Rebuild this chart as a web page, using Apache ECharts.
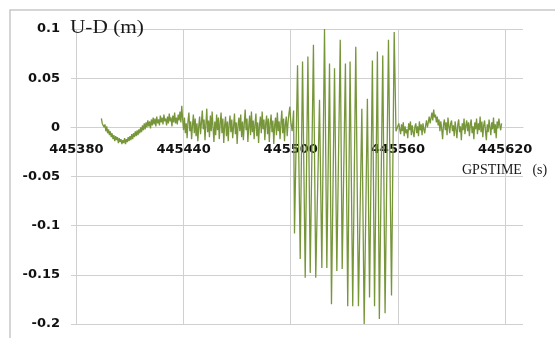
<!DOCTYPE html>
<html>
<head>
<meta charset="utf-8">
<script src="https://cdn.jsdelivr.net/npm/echarts@6/dist/echarts.min.js"></script>
<style>
  html, body { margin: 0; padding: 0; background: #ffffff; }
  #chart { width: 555px; height: 338px; }
</style>
</head>
<body>
<div id="chart"></div>
<script>
// GPS time of the first gridline; all sample times below are seconds after it
const GPS_BASE = 445380;

// X tick labels (GPS seconds)
const xTicks = [445380, 445440, 445500, 445560, 445620];

// Quiet interval before the disturbance (0.5 s samples)
const secBefore = [
  14, 14.5, 15, 15.5, 16, 16.5, 17, 17.5, 18, 18.5,
  19, 19.5, 20, 20.5, 21, 21.5, 22, 22.5, 23, 23.5,
  24, 24.5, 25, 25.5, 26, 26.5, 27, 27.5, 28, 28.5,
  29, 29.5, 30, 30.5, 31, 31.5, 32, 32.5, 33, 33.5,
  34, 34.5, 35, 35.5, 36, 36.5, 37, 37.5, 38, 38.5,
  39, 39.5, 40, 40.5, 41, 41.5, 42, 42.5, 43, 43.5,
  44, 44.5, 45, 45.5, 46, 46.5, 47, 47.5, 48, 48.5,
  49, 49.5, 50, 50.5, 51, 51.5, 52, 52.5, 53, 53.5,
  54, 54.5, 55, 55.5, 56, 56.5, 57, 57.5, 58, 58.5,
  59, 59.5, 60, 60.5, 61, 61.5, 62, 62.5, 63, 63.5,
  64, 64.5, 65, 65.5, 66, 66.5, 67, 67.5, 68, 68.5,
  69, 69.5, 70, 70.5, 71, 71.5, 72, 72.5, 73, 73.5,
  74, 74.5, 75, 75.5, 76, 76.5, 77, 77.5, 78, 78.5,
  79, 79.5, 80, 80.5, 81, 81.5, 82, 82.5, 83, 83.5,
  84, 84.5, 85, 85.5, 86, 86.5, 87, 87.5, 88, 88.5,
  89, 89.5, 90, 90.5, 91, 91.5, 92, 92.5, 93, 93.5,
  94, 94.5, 95, 95.5, 96, 96.5, 97, 97.5, 98, 98.5,
  99, 99.5, 100, 100.5, 101, 101.5, 102, 102.5, 103, 103.5,
  104, 104.5, 105, 105.5, 106, 106.5, 107, 107.5, 108, 108.5,
  109, 109.5, 110, 110.5, 111, 111.5, 112, 112.5, 113, 113.5,
  114, 114.5, 115, 115.5, 116, 116.5, 117, 117.5, 118, 118.5,
  119, 119.5, 120];
const udBefore = [
  0.009, 0.004, 0.006, 0.000, 0.003, -0.004, 0.001, -0.006, -0.002, -0.008,
  -0.004, -0.010, -0.006, -0.012, -0.008, -0.014, -0.009, -0.013, -0.010, -0.016,
  -0.011, -0.015, -0.012, -0.017, -0.013, -0.016, -0.011, -0.017, -0.012, -0.015,
  -0.010, -0.014, -0.009, -0.013, -0.007, -0.012, -0.006, -0.010, -0.004, -0.009,
  -0.003, -0.008, -0.002, -0.006, 0.000, -0.005, 0.002, -0.003, 0.004, -0.002,
  0.005, 0.000, 0.007, 0.001, 0.006, -0.001, 0.008, 0.002, 0.010, 0.003,
  0.009, 0.001, 0.011, 0.004, 0.008, 0.002, 0.012, 0.005, 0.010, 0.003,
  0.013, 0.006, 0.009, 0.002, 0.011, 0.004, 0.014, 0.006, 0.010, 0.001,
  0.012, 0.005, 0.015, 0.004, 0.010, 0.003, 0.013, 0.007, 0.016, 0.005,
  0.022, 0.008, -0.003, 0.010, -0.006, 0.004, -0.011, 0.007, 0.015, -0.004,
  0.006, -0.012, 0.002, 0.013, -0.006, 0.009, -0.009, 0.004, -0.014, 0.001,
  0.011, -0.007, 0.005, 0.017, -0.002, 0.008, -0.013, 0.003, 0.019, -0.005,
  0.007, -0.010, 0.012, -0.004, 0.016, 0.000, -0.015, 0.006, -0.008, 0.013,
  -0.003, 0.010, -0.012, 0.004, 0.015, -0.006, 0.009, -0.016, 0.002, 0.011,
  -0.009, 0.006, -0.014, 0.003, 0.012, -0.005, 0.008, -0.011, 0.001, 0.014,
  -0.007, 0.005, -0.017, 0.002, 0.010, -0.004, 0.013, -0.010, 0.006, -0.013,
  0.004, 0.018, -0.003, 0.009, -0.015, 0.001, 0.012, -0.008, 0.016, -0.005,
  0.007, -0.012, 0.003, 0.014, -0.009, 0.005, -0.016, 0.002, 0.011, -0.006,
  0.016, -0.002, 0.008, -0.013, 0.004, 0.012, -0.007, 0.009, -0.015, 0.003,
  0.013, -0.005, 0.007, -0.017, 0.002, 0.010, -0.008, 0.015, -0.004, 0.006,
  -0.012, 0.004, 0.017, -0.006, 0.009, -0.014, 0.003, 0.011, -0.009, 0.005,
  0.014, 0.021, 0.006];

// Oscillation burst: alternating crests and troughs
const secBurst = [120.8, 121.6, 122.1, 123.8, 125.3, 126.6, 128.1, 129.6, 130.9, 132.7, 134.0,
  136.1, 137.4, 138.9, 140.2, 141.7, 142.8, 144.5, 145.8, 147.7, 148.8, 150.6, 151.9,
  153.2, 154.7, 156.4, 157.9, 159.8, 161.1, 162.9, 164.1, 165.7, 166.9, 168.5, 169.6,
  171.5, 172.8, 174.7, 176.4, 177.9, 178.9];
const udBurst = [-0.004, 0.017, -0.108, 0.063, -0.134, 0.067, -0.153, 0.072, -0.148, 0.084, -0.153,
  0.028, -0.143, 0.100, -0.143, 0.065, -0.180, 0.060, -0.146, 0.089, -0.144, 0.065, -0.182,
  0.067, -0.182, 0.082, -0.182, 0.019, -0.200, 0.029, -0.173, 0.068, -0.182, 0.077, -0.195,
  0.073, -0.189, 0.089, -0.171, 0.097, -0.004];

// Quiet interval after the disturbance (0.5 s samples)
const secAfter = [
  180, 180.5, 181, 181.5, 182, 182.5, 183, 183.5, 184, 184.5,
  185, 185.5, 186, 186.5, 187, 187.5, 188, 188.5, 189, 189.5,
  190, 190.5, 191, 191.5, 192, 192.5, 193, 193.5, 194, 194.5,
  195, 195.5, 196, 196.5, 197, 197.5, 198, 198.5, 199, 199.5,
  200, 200.5, 201, 201.5, 202, 202.5, 203, 203.5, 204, 204.5,
  205, 205.5, 206, 206.5, 207, 207.5, 208, 208.5, 209, 209.5,
  210, 210.5, 211, 211.5, 212, 212.5, 213, 213.5, 214, 214.5,
  215, 215.5, 216, 216.5, 217, 217.5, 218, 218.5, 219, 219.5,
  220, 220.5, 221, 221.5, 222, 222.5, 223, 223.5, 224, 224.5,
  225, 225.5, 226, 226.5, 227, 227.5, 228, 228.5, 229, 229.5,
  230, 230.5, 231, 231.5, 232, 232.5, 233, 233.5, 234, 234.5,
  235, 235.5, 236, 236.5, 237, 237.5, 238];
const udAfter = [
  -0.004, 0.004, -0.002, -0.007, 0.003, -0.004, 0.005, -0.009, 0.001, -0.006,
  -0.002, -0.011, 0.004, -0.003, 0.006, -0.008, 0.002, -0.005, -0.010, 0.001,
  0.004, -0.006, 0.001, -0.009, 0.006, -0.003, 0.003, -0.008, 0.004, -0.002,
  -0.006, 0.002, 0.007, 0.000, 0.005, 0.011, 0.004, 0.009, 0.015, 0.007,
  0.018, 0.010, 0.013, 0.005, 0.011, 0.002, 0.008, -0.004, 0.006, -0.002,
  -0.012, 0.003, 0.008, -0.003, 0.005, -0.008, 0.010, 0.001, -0.006, 0.004,
  0.007, -0.004, 0.002, -0.009, 0.006, -0.002, -0.011, 0.003, 0.008, -0.005,
  0.001, -0.013, 0.004, -0.003, 0.009, -0.007, 0.002, 0.007, -0.004, 0.005,
  -0.009, 0.003, 0.008, -0.006, 0.001, -0.012, 0.005, -0.002, 0.009, -0.007,
  0.004, -0.003, 0.011, -0.005, 0.006, -0.010, 0.002, 0.007, -0.004, -0.013,
  0.003, -0.005, 0.008, 0.000, -0.008, 0.005, -0.002, 0.010, -0.006, 0.003,
  -0.011, 0.006, -0.001, 0.009, 0.002, -0.003, 0.004];

function toPairs(secs, vals) {
  return secs.map((s, i) => [GPS_BASE + s, vals[i]]);
}
const udSeries = toPairs(secBefore, udBefore)
  .concat(toPairs(secBurst, udBurst))
  .concat(toPairs(secAfter, udAfter));

const GRID_COLOR = '#d0d0d0';
const LABEL_FONT = 'DejaVu Sans';

const chart = echarts.init(document.getElementById('chart'), null, { renderer: 'canvas' });
chart.setOption({
  animation: false,
  backgroundColor: '#ffffff',
  grid: { left: 71, right: 32, top: 29, bottom: 14, containLabel: false, outerBoundsMode: 'none' },
  xAxis: {
    type: 'value',
    min: 445377,
    max: 445630,
    // axis sits on the zero line, 197px above the bottom of the plot
    offset: -197,
    axisLine: { show: true, onZero: false, lineStyle: { color: GRID_COLOR, width: 1 } },
    axisTick: { show: false },
    splitLine: { show: false },
    axisLabel: {
      customValues: xTicks,
      margin: 16,
      fontFamily: LABEL_FONT,
      fontWeight: 'bold',
      fontSize: 13,
      color: '#111111',
      formatter: v => String(v)
    }
  },
  yAxis: {
    type: 'value',
    min: -0.2,
    max: 0.1,
    interval: 0.05,
    axisLine: { show: false },
    axisTick: { show: false },
    splitLine: { show: true, lineStyle: { color: GRID_COLOR, width: 1 } },
    axisLabel: {
      margin: 11,
      fontFamily: LABEL_FONT,
      fontWeight: 'bold',
      fontSize: 13,
      color: '#111111',
      formatter: v => String(parseFloat(v.toFixed(2)))
    }
  },
  series: [
    {
      // vertical gridlines at the labelled GPS times
      type: 'line',
      data: [],
      silent: true,
      markLine: {
        silent: true,
        z: 1,
        symbol: ['none', 'none'],
        label: { show: false },
        lineStyle: { color: GRID_COLOR, type: 'solid', width: 1 },
        data: xTicks.map(t => ({ xAxis: t }))
      }
    },
    {
      name: 'U-D',
      type: 'line',
      z: 3,
      data: udSeries,
      symbol: 'none',
      showSymbol: false,
      lineStyle: { color: '#77963a', width: 1.3 }
    }
  ],
  graphic: [
    {
      type: 'rect',
      silent: true,
      z: -10,
      shape: { x: 10, y: 10, width: 600, height: 400 },
      style: { fill: 'none', stroke: '#c8c8c8', lineWidth: 1.5 }
    },
    {
      type: 'text',
      x: 70,
      y: 19,
      scaleX: 1.12,
      z: 10,
      style: { text: 'U-D (m)', font: '19px "Liberation Serif"', fill: '#1a1a1a' }
    },
    {
      type: 'text',
      x: 462,
      y: 163,
      z: 10,
      style: { text: 'GPSTIME   (s)', font: '14px "Liberation Serif"', fill: '#1a1a1a' }
    }
  ]
});
</script>
</body>
</html>
